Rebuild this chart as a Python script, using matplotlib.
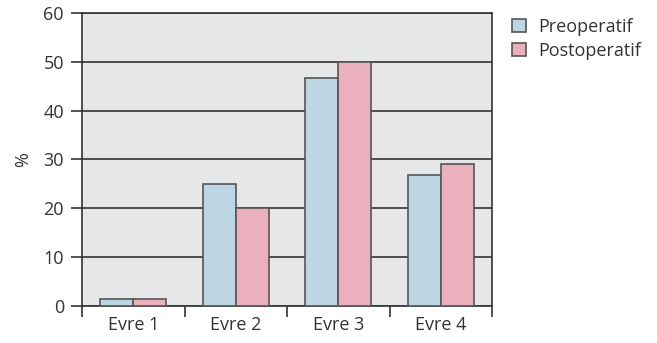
import matplotlib
matplotlib.use("Agg")
import matplotlib.pyplot as plt
import numpy as np

categories = ["Evre 1", "Evre 2", "Evre 3", "Evre 4"]
preop = [1.4, 25, 46.6, 26.8]
postop = [1.4, 20, 50, 29]
series_labels = ["Preoperatif", "Postoperatif"]

plt.rcParams['font.family'] = ['Open Sans', 'DejaVu Sans']

fig = plt.figure(figsize=(6.57, 3.43), dpi=100)
ax = fig.add_axes([0.1248, 0.108, 0.6242, 0.854])
ax.set_facecolor("#e6e7e8")

x = np.arange(len(categories))
w = 0.32
edge = "#555555"
ax.bar(x - w / 2, preop, w, color="#bcd6e4", edgecolor=edge, linewidth=1.2,
       label=series_labels[0], zorder=3)
ax.bar(x + w / 2, postop, w, color="#eab0bd", edgecolor=edge, linewidth=1.2,
       label=series_labels[1], zorder=3)

ax.set_xlim(-0.5, len(categories) - 0.5)
ax.set_ylim(0, 60)
ax.set_yticks(range(0, 61, 10))
ax.yaxis.grid(True, color="#333333", linewidth=1.2, zorder=1)
ax.set_axisbelow(True)

# category separators as x ticks, labels in between
ax.set_xticks(np.arange(-0.5, len(categories), 1))
ax.set_xticklabels([])
ax.set_xticks(x, minor=True)
ax.set_xticklabels(categories, minor=True)
ax.tick_params(axis="x", which="major", length=8, width=1.2, color="#333333")
ax.tick_params(axis="x", which="minor", length=0, labelsize=13, colors="#333333", pad=7)
ax.tick_params(axis="y", length=8, width=1.2, color="#333333", labelsize=13,
               labelcolor="#333333", pad=5)
for s in ax.spines.values():
    s.set_color("#333333")
    s.set_linewidth(1.2)

ax.set_ylabel("%", fontsize=13, color="#333333", labelpad=8)

ax.legend(loc="upper left", bbox_to_anchor=(1.01, 1.04), frameon=False,
          fontsize=13, handlelength=0.75, handleheight=0.75, handletextpad=0.7,
          labelspacing=0.35, labelcolor="#333333")

fig.savefig("out.png", dpi=100)
